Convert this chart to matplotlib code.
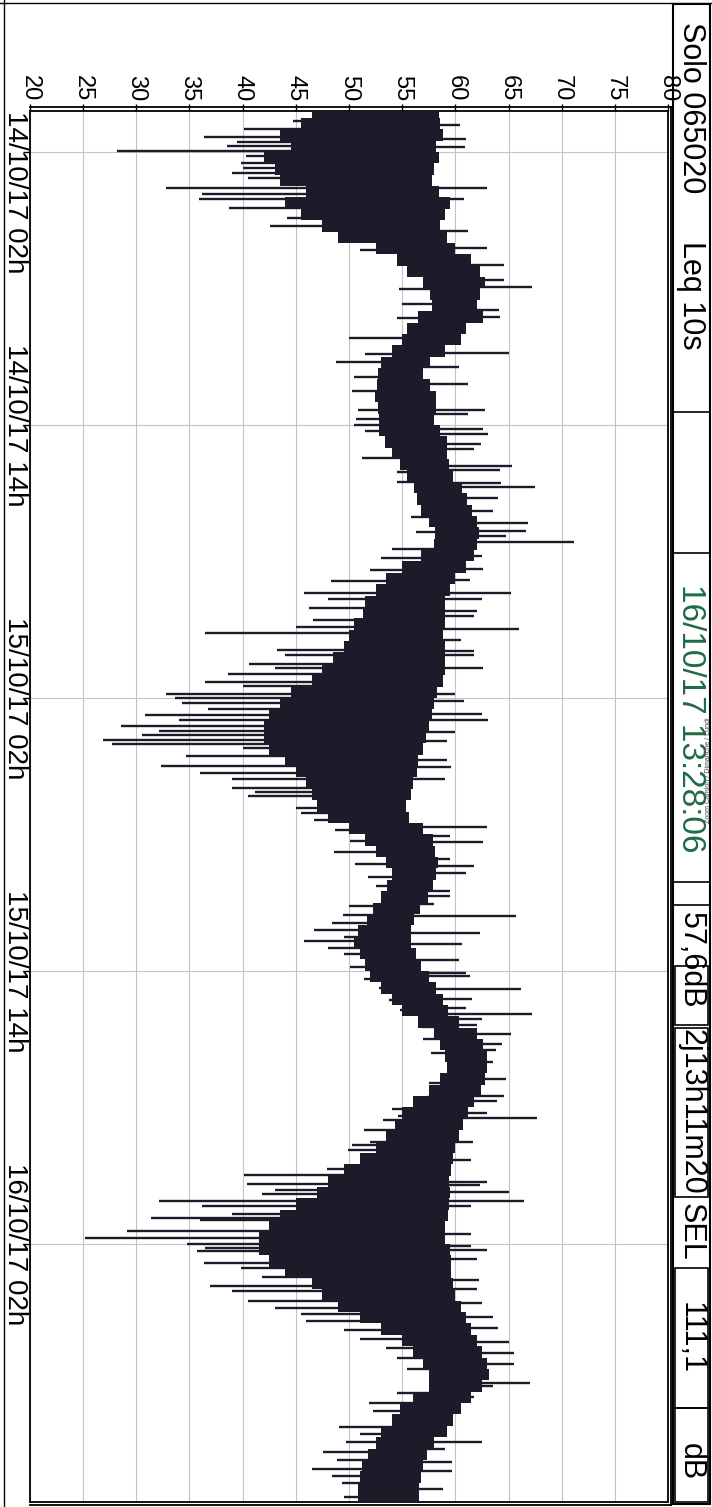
import numpy as np
import matplotlib.pyplot as plt
import matplotlib.transforms as mtransforms
from matplotlib.lines import Line2D
from matplotlib.patches import Rectangle

plt.rcParams['font.family'] = ['Liberation Sans', 'DejaVu Sans']

# Leq 10s record, time in hours since 14/10/17 00:00
step = 0.5
# dense band (min / max of the dark area), one value per half hour from t=0
core_lo = [46.5, 45.5, 43.5, 44.5, 42.0, 43.0, 43.5, 46.0, 44.0, 45.5,
           47.5, 49.0, 52.5, 54.5, 55.5, 57.0, 57.6, 57.8, 56.5, 55.5,
           55.0, 54.0, 53.0, 52.7, 52.6, 52.4, 52.7, 52.8, 52.8, 53.4,
           54.0, 54.8, 55.5, 56.1, 56.4, 56.8, 57.5, 58.1, 58.0, 56.8,
           55.0, 53.5, 52.5, 51.5, 51.3, 50.5, 50.0, 49.5, 48.5, 47.5,
           46.5, 44.5, 43.5, 42.5, 42.0, 42.0, 42.5, 44.0, 45.0, 46.0,
           46.5, 47.0, 48.0, 50.0, 51.5, 52.5, 53.5, 54.0, 53.6, 53.0,
           52.3, 51.7, 50.8, 50.5, 51.0, 51.5, 52.0, 53.0, 54.0, 55.0,
           56.5, 58.0, 58.6, 59.0, 59.2, 58.6, 57.5, 56.0, 55.0, 54.3,
           53.5, 52.5, 51.0, 49.5, 48.0, 47.0, 45.0, 43.5, 42.5, 41.5,
           41.5, 42.5, 44.0, 46.5, 47.5, 49.0, 51.0, 53.0, 55.0, 56.0,
           57.0, 57.5, 57.5, 56.0, 54.8, 54.0, 53.0, 52.5, 51.8, 51.2,
           51.0, 50.8, 50.8]
core_hi = [58.5, 58.6, 58.8, 58.2, 58.5, 58.0, 57.8, 58.5, 59.5, 59.0,
           58.6, 59.2, 60.0, 61.5, 62.3, 62.8, 62.3, 62.0, 62.6, 61.0,
           60.5, 59.0, 57.6, 57.0, 57.6, 58.2, 58.2, 58.0, 58.6, 59.2,
           59.2, 59.4, 59.8, 60.6, 61.1, 61.6, 62.0, 62.2, 62.0, 61.8,
           61.0, 60.0, 59.5, 59.0, 59.0, 59.0, 58.8, 59.0, 59.0, 59.0,
           58.8, 58.3, 58.0, 57.8, 57.5, 57.2, 57.0, 56.5, 56.4, 56.0,
           55.8, 55.4, 55.6, 57.0, 57.9, 58.1, 58.4, 58.2, 57.9, 57.4,
           56.7, 56.1, 55.8, 55.8, 56.3, 56.8, 57.5, 58.2, 58.8, 59.3,
           60.3, 62.0, 62.6, 63.0, 63.0, 62.8, 62.4, 61.8, 61.2, 60.7,
           60.3, 60.0, 59.8, 59.6, 59.4, 59.5, 59.4, 59.3, 59.0, 59.0,
           59.5, 59.6, 59.6, 59.8, 60.0, 60.5, 61.0, 61.5, 62.0, 62.5,
           63.0, 63.2, 62.5, 61.5, 60.5, 59.8, 59.2, 58.0, 57.3, 57.0,
           56.8, 56.6, 56.6]

# isolated low readings (time, dB)
low_t = [0.63, 1.01, 1.34, 1.58, 1.76, 1.96, 2.19, 2.47, 2.71, 2.94,
         3.13, 3.60, 3.84, 4.07, 4.45, 4.78, 4.92, 5.25, 5.53, 6.33,
         6.90, 8.03, 8.70, 9.30,
         10.19, 10.9, 11.22, 11.88, 12.49, 13.34, 13.72, 14.0, 14.28, 15.46,
         16.07, 16.5, 18.05, 18.71, 19.46, 19.84, 20.36,
         20.87, 21.38, 21.67, 22.04, 22.56, 22.89, 23.15, 23.88, 24.12, 24.49,
         24.68, 24.96, 25.29, 25.48, 25.81, 26.0, 26.24, 26.47, 26.75, 26.99,
         27.22, 27.46, 27.65, 27.84, 28.03, 28.21, 28.54, 29.01, 29.3, 29.58,
         29.96, 30.14, 30.33, 30.84, 31.08, 31.36,
         31.83, 32.3, 32.77, 33.29, 33.86, 34.28, 35.17, 35.55, 35.88, 36.21,
         36.49, 36.68, 37.01, 37.25, 37.81, 38.38, 38.75, 39.27, 39.7, 40.45,
         41.01,
         41.62, 42.94, 43.55, 44.07, 44.4, 44.54, 45.01, 45.53, 45.67, 45.86,
         46.33, 46.7, 46.99, 47.36, 47.65, 47.83, 48.12, 48.35, 48.68, 48.87,
         48.96, 49.43, 49.76, 50.0, 50.19, 50.33, 50.85, 51.08, 51.46, 51.84,
         52.07, 52.5, 52.8, 53.1, 53.4, 53.8, 54.2, 54.6, 55.0, 55.5,
         56.55, 57.0, 57.35, 58.05, 58.35, 58.7, 59.15, 59.5, 59.9, 60.2,
         60.5, 61.15]
low_db = [44.7, 40.1, 36.4, 39.5, 38.5, 28.2, 40.3, 39.8, 40.0, 39.0,
          40.5, 32.8, 36.2, 35.9, 38.7, 46.0, 44.2, 42.6, 50.3, 51.0,
          55.0, 54.7, 55.0, 54.5,
          50.0, 51.5, 48.8, 50.5, 50.3, 50.8, 50.7, 50.5, 51.5, 51.2,
          54.5, 54.5, 55.8, 56.3, 54.0, 53.0, 52.0,
          48.3, 45.8, 48.0, 46.2, 46.6, 45.0, 36.5, 43.2, 44.0, 40.6,
          43.0, 38.6, 36.5, 40.0, 32.8, 33.6, 34.3, 36.7, 30.8, 34.0,
          28.6, 32.1, 30.5, 26.9, 27.7, 40.0, 34.7, 32.3, 36.0, 39.0,
          39.0, 41.2, 40.5, 45.0, 45.5, 46.7,
          48.7, 50.1, 48.6, 50.6, 51.8, 52.5, 50.0, 49.4, 48.4, 46.7,
          49.5, 45.8, 48.0, 49.5, 50.1, 51.4, 52.8, 53.8, 54.8, 56.9,
          57.0,
          57.7, 57.5, 57.3, 54.0, 54.6, 53.2, 51.4, 52.0, 50.3, 49.9,
          51.5, 47.9, 40.1, 40.4, 43.0, 41.8, 32.1, 36.2, 39.0, 31.4,
          36.0, 29.1, 25.2, 34.8, 36.5, 35.7, 36.4, 39.8, 41.8, 36.9,
          39.0, 40.5, 43.0, 45.5, 46.0, 49.5, 51.0, 53.5, 54.5, 55.5,
          54.5, 51.9, 52.3, 49.1, 51.0, 49.7, 47.6, 48.9, 46.5, 48.4,
          49.3, 49.5]

# isolated high readings (time, dB)
high_t = [0.82, 1.43, 1.77, 3.60, 4.07, 5.49, 6.24, 6.99, 7.65, 7.93,
          8.97, 9.25,
          10.84, 11.46, 12.21, 13.34, 13.53, 14.19, 14.38, 14.85, 15.04, 15.79,
          15.98, 16.54, 16.73, 17.2, 17.77, 18.33, 18.66, 18.9, 19.13, 19.75,
          20.35, 20.82, 21.38, 21.67, 22.18, 22.42, 22.99, 23.46, 23.93, 24.12,
          24.68, 25.81, 26.14, 26.71, 26.99, 27.51, 27.88, 28.73, 29.06, 29.58,
          31.69, 32.07, 32.35, 33.1, 33.38, 33.71, 34.51, 34.7, 35.08, 35.6,
          36.35, 36.82, 37.53, 38.09, 38.24, 38.8, 39.22, 39.65, 39.88, 40.12,
          40.36, 40.78, 41.2, 41.49,
          41.99, 42.75, 43.5, 43.74, 44.25, 44.49, 45.53, 46.33, 47.27, 47.41,
          47.74, 48.12, 48.35, 49.58, 50.09, 50.28, 50.66, 51.6, 51.98,
          52.6, 53.2, 53.7, 54.3, 54.8, 55.3, 56.1, 56.25, 56.75, 58.7,
          59.0, 59.6, 60.0, 60.8]
high_db = [60.4, 61.0, 60.9, 63.0, 60.8, 61.2, 63.0, 64.6, 64.6, 67.2,
           64.1, 64.2,
           65.0, 60.3, 61.2, 62.8, 61.2, 62.6, 63.1, 62.4, 61.8, 65.3,
           64.2, 64.3, 67.5, 64.0, 63.5, 66.8, 66.6, 64.8, 71.2, 62.5,
           62.6, 61.4, 65.2, 62.5, 62.0, 61.8, 66.0, 60.5, 61.8, 61.8,
           62.6, 60.0, 60.8, 62.5, 63.1, 60.0, 59.2, 59.2, 59.6, 59.0,
           63.0, 59.5, 62.6, 59.5, 61.8, 61.0, 59.5, 59.5, 58.0, 65.7,
           62.3, 60.6, 60.3, 61.0, 61.4, 66.2, 61.6, 61.0, 67.2, 62.5,
           62.0, 65.2, 64.4, 63.8,
           63.5, 64.8, 64.6, 63.9, 63.0, 67.7, 61.7, 61.5, 63.0, 62.3,
           65.0, 66.5, 61.5, 61.5, 61.5, 63.0, 62.0, 62.2, 62.0,
           62.5, 63.5, 64.0, 65.0, 65.5, 65.5, 67.0, 63.5, 61.8, 62.5,
           59.0, 59.7, 59.7, 58.8]

db_ticks = list(range(20, 85, 5))
time_ticks = [2, 14, 26, 38, 50]
time_labels = ['14/10/17 02h', '14/10/17 14h', '15/10/17 02h',
               '15/10/17 14h', '16/10/17 02h']

W, H = 712, 1507
fig = plt.figure(figsize=(W / 100, H / 100), dpi=100)


def fx(x):
    return x / W


def fy(y):
    return 1 - y / H


ink = '#1c1b29'
green = '#1f6b45'

top_px, bot_px = 111, 1502
ax = fig.add_axes([fx(30), fy(bot_px), fx(668) - fx(30), fy(top_px) - fy(bot_px)])

core_t = np.arange(len(core_lo)) * step
ax.barh(core_t, np.subtract(core_hi, core_lo), left=core_lo, height=step,
        align='edge', color=ink, lw=0, zorder=3)
mid = (np.array(core_lo) + np.array(core_hi)) / 2
i_lo = np.minimum((np.array(low_t) // step).astype(int), len(mid) - 1)
i_hi = np.minimum((np.array(high_t) // step).astype(int), len(mid) - 1)
ax.hlines(low_t, low_db, mid[i_lo], color=ink, lw=1.7, zorder=3)
ax.hlines(high_t, mid[i_hi], high_db, color=ink, lw=1.7, zorder=3)

ax.set_xlim(20, 80)
ax.set_ylim(61.35, 0.2)
ax.set_xticks(db_ticks)
ax.set_yticks(time_ticks)
ax.set_yticklabels([])
ax.xaxis.tick_top()
ax.set_xticklabels([str(v) for v in db_ticks])
ax.tick_params(axis='x', length=5, width=1, pad=2, labelsize=17,
               labelrotation=-90)
ax.tick_params(axis='y', length=5, width=1)
ax.grid(True, color='#c4c4c4', lw=0.8)
ax.set_axisbelow(True)
for s in ax.spines.values():
    s.set_linewidth(1.3)

tr = mtransforms.blended_transform_factory(ax.transAxes, ax.transData)
for i, (t, lab) in enumerate(zip(time_ticks, time_labels)):
    if i == 0:
        ax.text(-0.023, 0.2, lab, transform=tr, rotation=-90, ha='center',
                va='top', fontsize=20)
    else:
        ax.text(-0.023, t, lab, transform=tr, rotation=-90, ha='center',
                va='center', fontsize=20)


def line(x0, y0, x1, y1, lw=1.3):
    fig.add_artist(Line2D([fx(x0), fx(x1)], [fy(y0), fy(y1)], color='black',
                          lw=lw, transform=fig.transFigure))


def box(y0, y1, x0=675, x1=708, lw=1.2):
    fig.add_artist(Rectangle((fx(x0), fy(y1)), fx(x1) - fx(x0), fy(y0) - fy(y1),
                             fill=False, lw=lw, ec='black',
                             transform=fig.transFigure))


# double frame lines around the plot, page frame
line(30, 107, 671, 107)
line(671, 107, 671, 1505)
line(30, 1505, 671, 1505)
line(0, 3, 712, 3, lw=1.0)
line(4, 0, 4, 1507, lw=1.0)

# header column
box(4, 1504, 673, 710, lw=1.5)
for yy in [412, 553, 882, 905]:
    line(673, yy, 710, yy, lw=1.2)
box(966, 1025)
box(1028, 1197)
box(1268, 1408)
box(1408, 1502)

header = [('Solo 065020', 108, 'black', 22),
          ('Leq 10s', 295, 'black', 22),
          ('16/10/17 13:28:06', 718, green, 24),
          ('57,6dB', 960, 'black', 22),
          ('2j13h11m20', 1112, 'black', 22),
          ('SEL', 1232, 'black', 22),
          ('111,1', 1338, 'black', 22),
          ('dB', 1462, 'black', 22)]
for txt, yy, col, fs in header:
    fig.text(fx(691), fy(yy), txt, rotation=-90, ha='center', va='center',
             fontsize=fs, color=col)

fig.text(fx(708.5), fy(770), 'Zoom Camion / Dimanche / Lundi', rotation=90,
         ha='center', va='center', fontsize=5, color='#444444')

fig.savefig('out.png', dpi=100)
